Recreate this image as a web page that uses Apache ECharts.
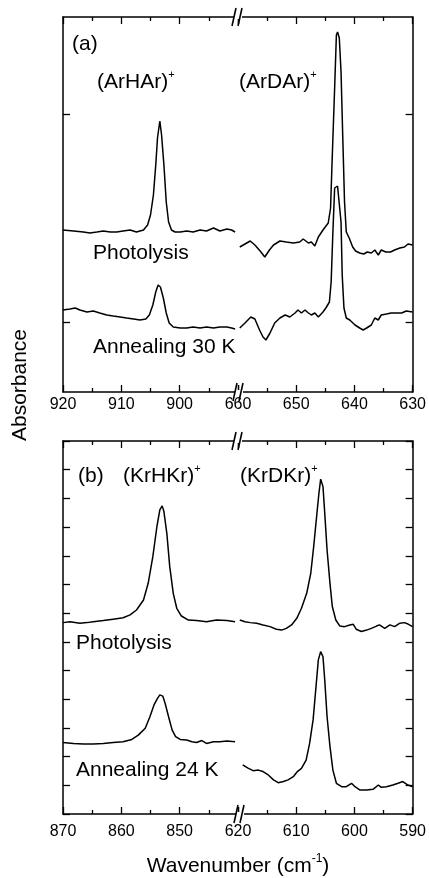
<!DOCTYPE html>
<html>
<head>
<meta charset="utf-8">
<script src="https://cdn.jsdelivr.net/npm/echarts@6/dist/echarts.min.js"></script>
<style>
  html, body { margin: 0; padding: 0; background: #fff; }
  #chart { width: 429px; height: 878px; }
</style>
</head>
<body>
<div id="chart"></div>
<script>
// (a) Ar matrix, left part 920-890 cm-1
const arHPhot = [[920.0,1.62],[918.2,1.61],[916.5,1.60],[915.4,1.59],[914.2,1.60],[913.1,1.61],[911.9,1.60],[910.8,1.60],[909.7,1.61],[908.5,1.62],[907.4,1.60],[906.2,1.62],[905.5,1.67],[905.0,1.77],[904.5,1.97],[904.1,2.27],[903.8,2.54],[903.4,2.71],[903.1,2.57],[902.7,2.27],[902.3,1.90],[901.9,1.70],[901.4,1.62],[900.8,1.60],[899.9,1.60],[898.8,1.61],[897.7,1.60],[896.5,1.62],[895.4,1.61],[894.2,1.64],[893.1,1.61],[891.9,1.63],[891.1,1.62],[890.5,1.60]]
const arHAnn = [[920.0,0.82],[918.8,0.83],[917.9,0.84],[917.1,0.82],[915.9,0.80],[914.8,0.81],[913.7,0.79],[912.5,0.77],[911.4,0.76],[910.2,0.75],[909.1,0.74],[907.9,0.73],[906.8,0.72],[905.8,0.73],[905.2,0.77],[904.6,0.87],[904.1,1.00],[903.7,1.07],[903.3,1.05],[902.8,0.94],[902.3,0.79],[901.8,0.69],[901.1,0.65],[899.9,0.64],[898.8,0.64],[897.7,0.65],[896.5,0.64],[895.4,0.65],[894.2,0.64],[893.1,0.65],[891.9,0.65],[891.1,0.64],[890.5,0.63]]
// (a) right part 660-630 cm-1
const arDPhot = [[659.7,1.45],[658.8,1.48],[657.9,1.51],[657.1,1.47],[656.2,1.41],[655.4,1.35],[654.6,1.42],[653.9,1.47],[652.8,1.51],[651.7,1.50],[650.5,1.49],[649.4,1.50],[648.8,1.53],[647.9,1.49],[647.4,1.50],[646.8,1.46],[646.2,1.55],[645.4,1.62],[644.5,1.69],[644.1,1.84],[643.8,2.37],[643.4,3.04],[643.1,3.57],[642.9,3.60],[642.6,3.54],[642.3,3.20],[642.0,2.54],[641.7,1.90],[641.4,1.60],[640.9,1.54],[640.3,1.45],[639.8,1.41],[639.1,1.39],[638.4,1.38],[637.8,1.40],[637.1,1.39],[636.5,1.42],[635.9,1.37],[635.4,1.42],[634.6,1.40],[633.8,1.40],[633.1,1.42],[632.2,1.44],[631.4,1.45],[630.8,1.48],[630.0,1.47]]
const arDAnn = [[659.7,0.64],[658.8,0.69],[657.8,0.75],[657.1,0.73],[656.3,0.62],[655.7,0.55],[655.2,0.52],[654.5,0.59],[653.7,0.69],[652.8,0.74],[651.9,0.77],[651.1,0.75],[650.2,0.79],[649.7,0.82],[649.1,0.79],[648.5,0.82],[647.9,0.79],[647.4,0.77],[646.8,0.79],[646.2,0.75],[645.4,0.80],[644.8,0.85],[644.3,0.90],[644.0,1.10],[643.7,1.60],[643.4,2.04],[643.1,2.05],[642.9,2.06],[642.6,2.04],[642.3,1.70],[642.1,1.17],[641.8,0.84],[641.4,0.74],[640.8,0.72],[639.9,0.67],[639.1,0.64],[638.5,0.62],[637.9,0.64],[637.1,0.67],[636.5,0.74],[635.9,0.72],[635.4,0.77],[634.5,0.78],[633.7,0.79],[632.8,0.79],[631.9,0.79],[631.1,0.81],[630.0,0.80]]

// (b) Kr matrix, left part 870-840 cm-1
const krHPhot = [[870.0,6.67],[868.8,6.70],[867.1,6.65],[865.9,6.67],[864.8,6.70],[863.1,6.74],[861.4,6.79],[859.7,6.84],[858.5,6.94],[857.4,7.11],[856.2,7.46],[855.4,8.04],[854.6,8.97],[853.9,10.02],[853.4,10.60],[853.0,10.74],[852.7,10.54],[852.2,9.78],[851.7,8.62],[851.1,7.69],[850.5,7.17],[849.7,6.90],[848.5,6.76],[847.1,6.74],[845.4,6.70],[843.7,6.76],[841.9,6.74],[840.5,6.70]]
const krHAnn = [[870.0,2.49],[868.2,2.46],[866.5,2.44],[864.8,2.44],[863.1,2.46],[861.4,2.49],[859.7,2.52],[858.2,2.60],[857.1,2.75],[855.9,2.99],[855.1,3.39],[854.4,3.80],[853.8,4.03],[853.4,4.15],[852.9,4.11],[852.5,3.86],[851.9,3.39],[851.3,2.93],[850.7,2.70],[849.9,2.60],[848.8,2.58],[847.9,2.52],[847.1,2.49],[846.2,2.56],[845.4,2.46],[844.2,2.52],[843.1,2.52],[841.9,2.54],[840.5,2.52]]
// (b) right part 620-590 cm-1
const krDPhot = [[619.7,6.76],[618.8,6.70],[617.9,6.67],[616.8,6.65],[615.7,6.59],[614.5,6.53],[613.4,6.44],[612.5,6.41],[611.7,6.47],[610.8,6.59],[609.9,6.82],[609.1,7.17],[608.2,7.69],[607.5,8.39],[607.0,9.32],[606.5,10.36],[606.1,11.18],[605.8,11.67],[605.4,11.41],[605.1,10.48],[604.7,9.20],[604.2,8.04],[603.8,7.23],[603.2,6.76],[602.5,6.55],[601.7,6.53],[600.8,6.59],[600.2,6.61],[599.7,6.44],[598.8,6.36],[597.9,6.41],[597.1,6.47],[596.2,6.55],[595.7,6.59],[594.8,6.47],[593.9,6.59],[593.1,6.53],[592.2,6.65],[591.4,6.67],[590.8,6.62],[590.0,6.53]]
const krDAnn = [[619.2,1.71],[618.2,1.59],[617.4,1.51],[616.5,1.53],[615.7,1.48],[614.8,1.36],[613.9,1.19],[613.1,1.09],[612.2,1.13],[611.4,1.19],[610.5,1.30],[609.8,1.48],[609.1,1.59],[608.3,1.88],[607.7,2.46],[607.1,3.28],[606.6,4.44],[606.2,5.37],[605.8,5.66],[605.4,5.48],[605.1,4.67],[604.7,3.39],[604.2,2.35],[603.7,1.53],[603.1,1.07],[602.2,0.95],[601.4,0.95],[600.5,1.07],[599.9,0.95],[599.1,0.84],[597.9,0.84],[596.8,0.86],[595.9,1.01],[595.4,0.93],[594.5,0.95],[593.4,1.01],[592.5,1.07],[591.7,1.13],[590.8,1.01],[590.0,0.95]]

// axis ranges of the four segments [min, max], tick label hidden at the break
const xRanges = [[890, 920], [630, 660], [840, 870], [590, 620]]
const xHidden = [890, null, 840, null]
const yTicksA = [0.70, 2.78]

const FONT = '"Liberation Sans", Arial, Helvetica, sans-serif'
const chart = echarts.init(document.getElementById('chart'))

const grids = [
  { left: 63, top: 17, width: 175, height: 375 },
  { left: 238, top: 17, width: 175, height: 375 },
  { left: 63, top: 441, width: 175, height: 373 },
  { left: 238, top: 441, width: 175, height: 373 }
]

const lineSt = { color: '#000', width: 1.5 }
const tickSt = { color: '#000', width: 1.3 }

const xAxes = []
xRanges.forEach((r, i) => {
  const base = {
    type: 'value', gridIndex: i, min: r[0], max: r[1], interval: 10, inverse: true,
    axisLine: { show: true, onZero: false, lineStyle: lineSt },
    axisTick: { show: true, inside: true, length: 7, lineStyle: tickSt },
    minorTick: { show: true, splitNumber: 2, length: 4, lineStyle: tickSt },
    splitLine: { show: false }, minorSplitLine: { show: false }
  }
  xAxes.push(Object.assign({}, base, {
    position: 'bottom',
    axisLabel: {
      show: true, margin: i < 2 ? 5 : 10, color: '#000', fontSize: 16, fontFamily: FONT,
      showMinLabel: true, showMaxLabel: true,
      formatter: v => (v === xHidden[i] ? '' : String(v))
    }
  }))
  xAxes.push(Object.assign({}, base, { position: 'top', axisLabel: { show: false } }))
})

function yAxis (gi, pos, extra) {
  return Object.assign({
    type: 'value', gridIndex: gi, position: pos,
    axisLine: { show: true, onZero: false, lineStyle: lineSt },
    axisLabel: { show: false },
    splitLine: { show: false }
  }, extra)
}
const yA = { min: 0, max: 3.75, axisTick: { show: true, inside: true, length: 7, lineStyle: tickSt, customValues: yTicksA } }
const yB = { min: 0, max: 13, interval: 1, axisTick: { show: true, inside: true, length: 7, lineStyle: tickSt } }
const yAxes = [yAxis(0, 'left', yA), yAxis(1, 'right', yA), yAxis(2, 'left', yB), yAxis(3, 'right', yB)]

const traces = [
  [arHPhot, 0], [arHAnn, 0], [arDPhot, 1], [arDAnn, 1],
  [krHPhot, 2], [krHAnn, 2], [krDPhot, 3], [krDAnn, 3]
]
const series = traces.map(([d, g]) => ({
  type: 'line', data: d, xAxisIndex: g * 2, yAxisIndex: g,
  showSymbol: false, symbol: 'none', smooth: false,
  lineStyle: { color: '#000', width: 1.5 }
}))

// text labels
function label (text, x, y, size) {
  return {
    type: 'text', x: x, y: y, z: 10,
    style: { text: text, fill: '#000', font: (size || 21) + 'px ' + FONT, align: 'left', textAlign: 'left', verticalAlign: 'middle', textVerticalAlign: 'middle' }
  }
}
function supLabel (main, sup, x, y) {
  return {
    type: 'text', x: x, y: y, z: 10,
    style: {
      text: '{m|' + main + '}{s|' + sup + '}',
      align: 'left', textAlign: 'left', verticalAlign: 'middle', textVerticalAlign: 'middle',
      rich: {
        m: { fontSize: 21, fontFamily: FONT, fill: '#000', lineHeight: 26 },
        s: { fontSize: 11, fontFamily: FONT, fill: '#000', lineHeight: 16, verticalAlign: 'top' }
      }
    }
  }
}
// broken axis marks "//"
function breakMark (cx, cy) {
  return [
    { type: 'rect', z: 9, shape: { x: cx - 4, y: cy - 2, width: 8, height: 4 }, style: { fill: '#fff' } },
    { type: 'line', z: 10, shape: { x1: cx - 6, y1: cy + 9, x2: cx - 2, y2: cy - 9 }, style: { stroke: '#000', lineWidth: 1.6 } },
    { type: 'line', z: 10, shape: { x1: cx, y1: cy + 9, x2: cx + 4, y2: cy - 9 }, style: { stroke: '#000', lineWidth: 1.6 } }
  ]
}

const graphics = [
  label('(a)', 72, 44),
  supLabel('(ArHAr)', '+', 97, 82),
  supLabel('(ArDAr)', '+', 239, 82),
  label('Photolysis', 93, 253),
  label('Annealing 30 K', 93, 347),
  label('(b)', 78, 476),
  supLabel('(KrHKr)', '+', 123, 476),
  supLabel('(KrDKr)', '+', 240, 476),
  label('Photolysis', 76, 643),
  label('Annealing 24 K', 76, 770),
  {
    type: 'text', x: 238, y: 866, z: 10,
    style: {
      text: '{m|Wavenumber (cm}{s|-1}{m|)}',
      align: 'center', textAlign: 'center', verticalAlign: 'middle', textVerticalAlign: 'middle',
      rich: {
        m: { fontSize: 21, fontFamily: FONT, fill: '#000', lineHeight: 26 },
        s: { fontSize: 12, fontFamily: FONT, fill: '#000', lineHeight: 16, verticalAlign: 'top' }
      }
    }
  },
  {
    type: 'text', x: 20, y: 385, rotation: Math.PI / 2, z: 10,
    style: { text: 'Absorbance', fill: '#000', font: '21px ' + FONT, align: 'center', textAlign: 'center', verticalAlign: 'middle', textVerticalAlign: 'middle' }
  }
].concat(breakMark(238, 17), breakMark(239, 392), breakMark(238, 441), breakMark(240, 814))

chart.setOption({
  animation: false,
  backgroundColor: '#fff',
  grid: grids,
  xAxis: xAxes,
  yAxis: yAxes,
  series: series,
  graphic: graphics
})
</script>
</body>
</html>
